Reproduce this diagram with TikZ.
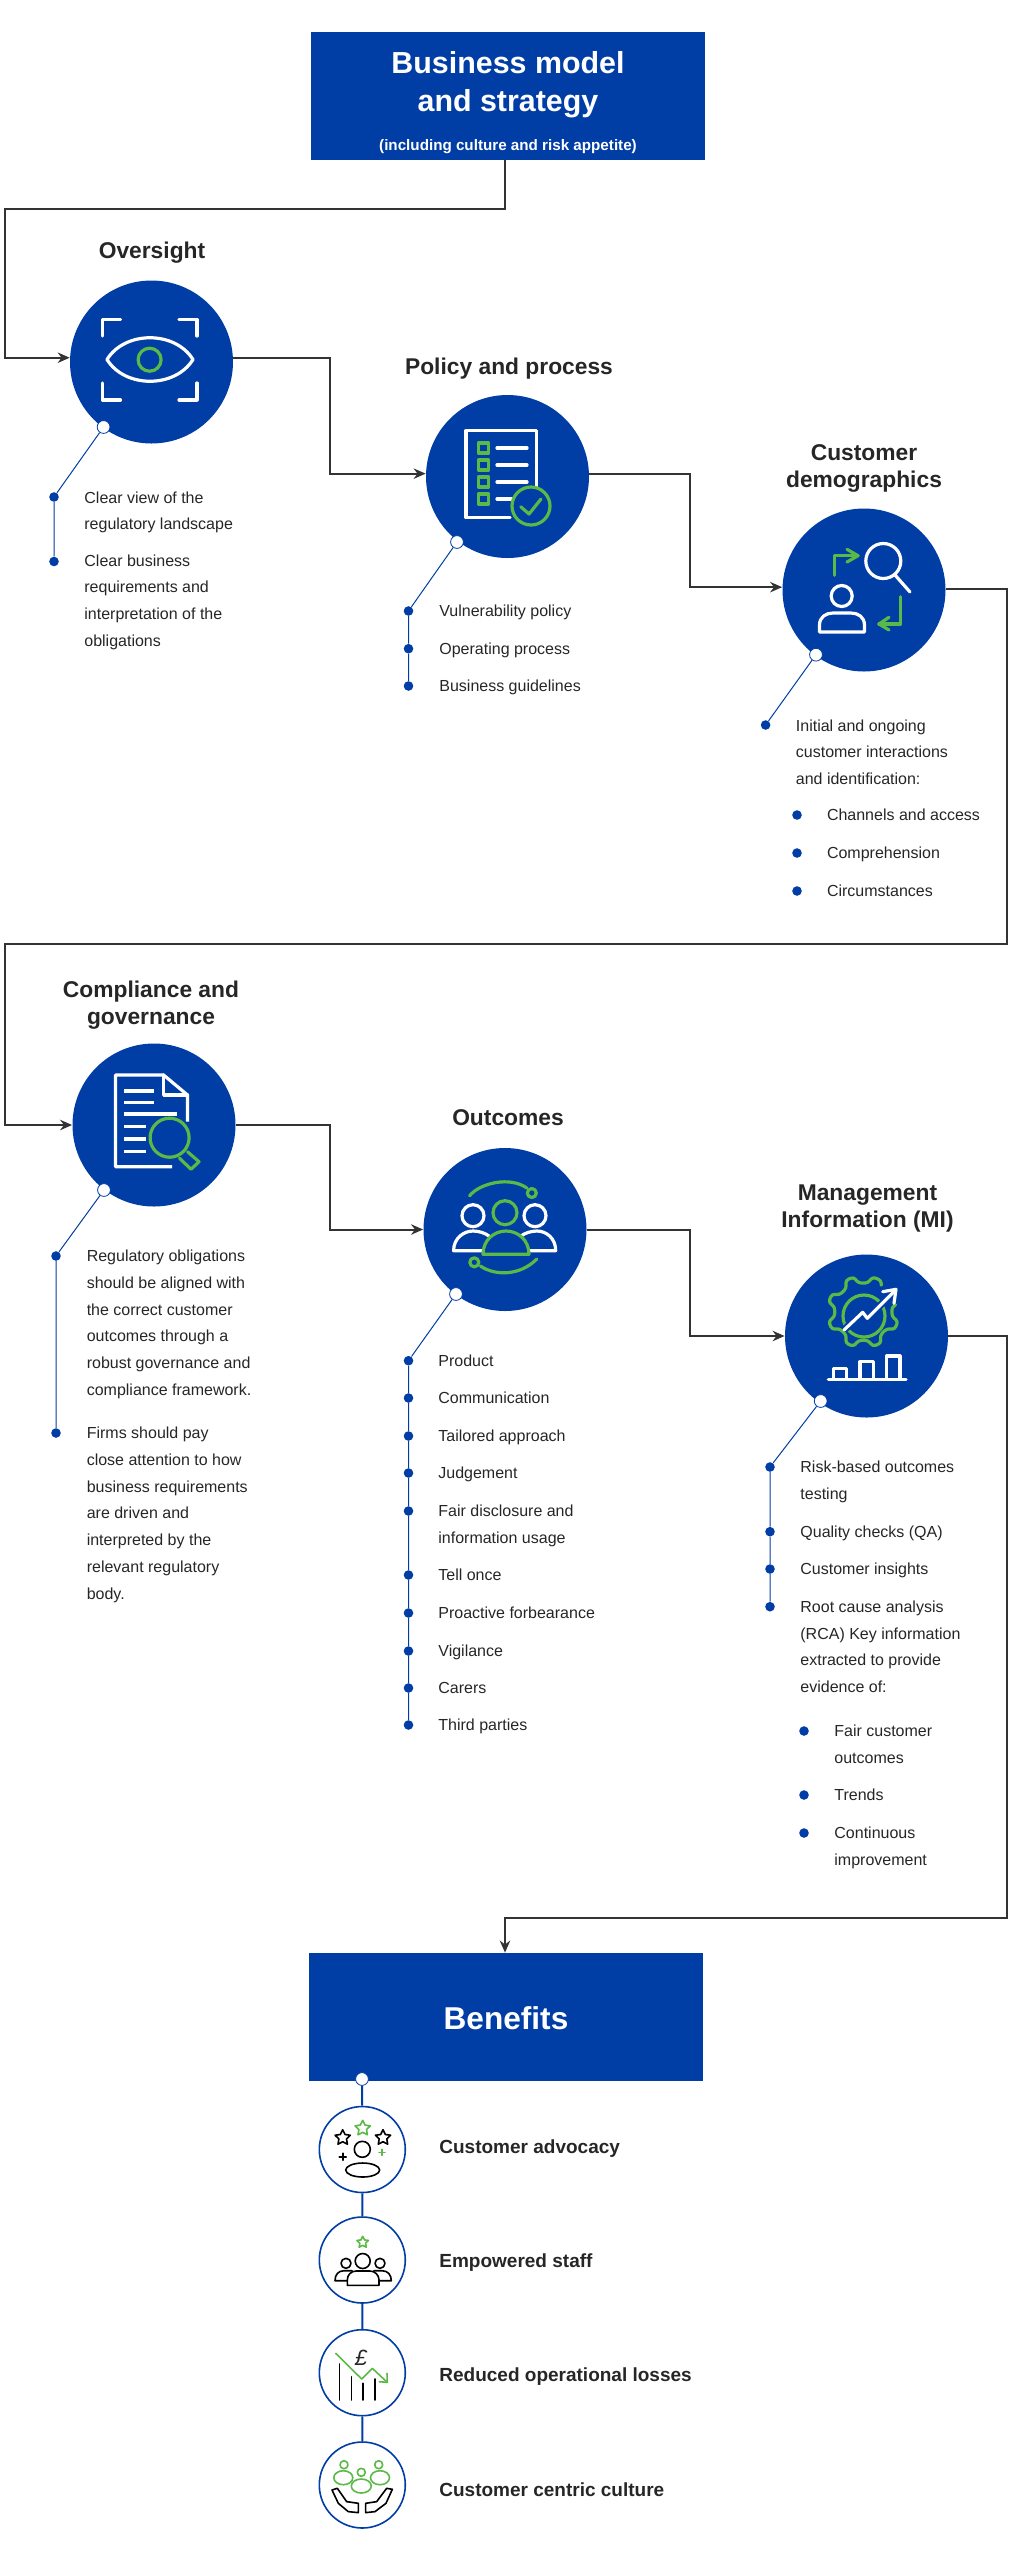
\documentclass[tikz,border=0pt]{standalone}
\usepackage{fontspec}
\setmainfont{Liberation Sans}
\usetikzlibrary{positioning,arrows.meta,calc}
\definecolor{bizblue}{HTML}{003DA5}
\definecolor{leaf}{HTML}{5BB947}
\definecolor{ink}{HTML}{262626}
\definecolor{flowgrey}{HTML}{333333}
\tikzset{
	bigbox/.style={rectangle,fill=bizblue,minimum width=197pt,minimum height=64pt,inner sep=0pt},
	stage/.style={circle,fill=bizblue,minimum size=81.5pt,inner sep=0pt},
	stagetitle/.style={align=center,inner sep=0pt,text=ink,font=\fontsize{11.4}{13.5}\selectfont\bfseries},
	itemtext/.style={anchor=north west,align=left,inner sep=0pt,text=ink,font=\fontsize{8}{13.4}\selectfont},
	bentext/.style={anchor=west,inner sep=0pt,text=ink,font=\fontsize{9.5}{12}\selectfont\bfseries},
	bullet/.style={circle,fill=bizblue,minimum size=4.8pt,inner sep=0pt},
	hookdot/.style={circle,fill=white,draw=bizblue,line width=.4pt,minimum size=6.4pt,inner sep=0pt},
	benring/.style={circle,fill=white,draw=bizblue,line width=.8pt,minimum size=43pt,inner sep=0pt},
	flow/.style={draw=flowgrey,line width=1pt,-{Stealth[length=6pt,width=5.2pt]}},
	tieline/.style={draw=bizblue,line width=.5pt},
	benline/.style={draw=bizblue,line width=1pt},
	whiteicon/.style={draw=white,line width=1.6pt,line cap=round,line join=round},
	greenicon/.style={draw=leaf,line width=1.6pt,line cap=round,line join=round},
	blackthin/.style={draw=black,line width=.8pt,line cap=round,line join=round},
	greenthin/.style={draw=leaf,line width=.8pt,line cap=round,line join=round},
}
\newcommand{\iconstar}[4]{\begin{scope}[shift={(#1,#2)},scale=#3]
	\draw[#4] (-90:1) -- (-54:.5) -- (-18:1) -- (18:.5) -- (54:1) -- (90:.5) -- (126:1) -- (162:.5) -- (198:1) -- (234:.5) -- cycle;
	\end{scope}}
\begin{document}
\begin{tikzpicture}[x=.5pt,y=-.5pt]
	\useasboundingbox (0,0) rectangle (1018,2560);
	\node[bigbox] (biz) at (508,96) {};
	\node[align=center,inner sep=0pt,text=white,font=\fontsize{15.2}{19}\selectfont\bfseries] (biztext) at (508,103) {Business model\\and strategy\\[.5pt]{\fontsize{7.6}{9}\selectfont(including culture and risk appetite)}};
	\node[bigbox] (ben) at (506,2017) {};
	\node[inner sep=0pt,text=white,font=\fontsize{15.8}{19}\selectfont\bfseries] (bentitle) at (506,2018) {Benefits};

	\node[stage] (over) at (151.5,362) {};
	\node[stage] (pol) at (507.5,476.5) {};
	\node[stage] (cust) at (864,590) {};
	\node[stage] (comp) at (154,1125) {};
	\node[stage] (outc) at (505,1229.5) {};
	\node[stage] (mi) at (866.5,1336) {};

	\node[stagetitle] (overt) at (152,253) {Oversight};
	\node[stagetitle] (polt) at (509,369) {Policy and process};
	\node[stagetitle] (custt) at (864,468.5) {Customer\\demographics};
	\node[stagetitle] (compt) at (151,1005) {Compliance and\\governance};
	\node[stagetitle] (outct) at (508,1118) {Outcomes};
	\node[stagetitle] (mit) at (867.5,1209) {Management\\Information (MI)};

	% elbows of the main flow
	\coordinate (e1) at (504.5,209);
	\coordinate (e2) at (5,209);
	\coordinate (e3) at (330,400);
	\coordinate (e4) at (689.6,500);
	\coordinate (e5) at (1006.5,944);
	\coordinate (e6) at (5,944);
	\coordinate (e7) at (330,1200);
	\coordinate (e8) at (689.6,1300);
	\coordinate (e9) at (1006.5,1917.7);
	\coordinate (e10) at (505,1917.7);

	\draw[flow] (e1 |- biz.south) -- (e1) -- (e2) |- (over.177);
	\draw[flow] (over.3) -| (e3) |- (pol.178);
	\draw[flow] (pol.2) -| (e4) |- (cust.178);
	\draw[flow] (cust.1) -| (e5) -- (e6) |- (comp.west);
	\draw[flow] (comp.east) -| (e7) |- (outc.west);
	\draw[flow] (outc.east) -| (e8) |- (mi.west);
	\draw[flow] (mi.east) -| (e9) -- (e10) -- (e10 |- ben.north);

	% oversight list
	\node[hookdot] (hookover) at (103.6,427) {};
	\node[bullet] (overa) at (54,497) {};
	\node[bullet] (overb) at (54,561.5) {};
	\draw[tieline] (hookover) -- (overa) -- (overb);
	\node[itemtext] (overat) at (84,491) {Clear view of the\\regulatory landscape};
	\node[itemtext] (overbt) at (84,554) {Clear business\\requirements and\\interpretation of the\\obligations};

	% policy list
	\node[hookdot] (hookpol) at (457,542) {};
	\node[bullet] (pola) at (408.5,611) {};
	\node[bullet] (polb) at (408.5,648.7) {};
	\node[bullet] (polc) at (408.5,686) {};
	\draw[tieline] (hookpol) -- (pola) -- (polb) -- (polc);
	\node[itemtext] (polat) at (439,604) {Vulnerability policy};
	\node[itemtext] (polbt) at (439,642) {Operating process};
	\node[itemtext] (polct) at (439,679.5) {Business guidelines};

	% customer list
	\node[hookdot] (hookcust) at (816,654.7) {};
	\node[bullet] (custa) at (765.6,725) {};
	\draw[tieline] (hookcust) -- (custa);
	\node[itemtext] (custat) at (795.5,719) {Initial and ongoing\\customer interactions\\and identification:};
	\node[bullet] (subca) at (797,815) {};
	\node[bullet] (subcb) at (797,853) {};
	\node[bullet] (subcc) at (797,891) {};
	\node[itemtext] (subcat) at (826.6,808.5) {Channels and access};
	\node[itemtext] (subcbt) at (826.6,846.5) {Comprehension};
	\node[itemtext] (subcct) at (826.6,884.5) {Circumstances};

	% compliance list
	\node[hookdot] (hookcomp) at (104,1190) {};
	\node[bullet] (compa) at (56,1256) {};
	\node[bullet] (compb) at (56,1433) {};
	\draw[tieline] (hookcomp) -- (compa) -- (compb);
	\node[itemtext] (compat) at (86.4,1249.5) {Regulatory obligations\\should be aligned with\\the correct customer\\outcomes through a\\robust governance and\\compliance framework.};
	\node[itemtext] (compbt) at (86.4,1426.5) {Firms should pay\\close attention to how\\business requirements\\are driven and\\interpreted by the\\relevant regulatory\\body.};

	% outcomes list
	\node[hookdot] (hookoutc) at (456,1294) {};
	\foreach \nm/\yy/\txt in {a/1360.7/Product,b/1398/Communication,c/1436/Tailored approach,d/1473/Judgement,e/1511/{Fair disclosure and\\information usage},f/1575/Tell once,g/1613/Proactive forbearance,h/1651/Vigilance,i/1688/Carers,j/1725/Third parties}{
		\node[bullet] (outc\nm) at (408.5,\yy) {};
		\node[itemtext] (outc\nm t) at (438,\yy-6.5) {\txt};
	}
	\draw[tieline] (hookoutc) -- (outca) -- (outcb) -- (outcc) -- (outcd) -- (outce) -- (outcf) -- (outcg) -- (outch) -- (outci) -- (outcj);

	% management information list
	\node[hookdot] (hookmi) at (820.7,1401) {};
	\node[bullet] (mia) at (770,1467) {};
	\node[bullet] (mib) at (770,1531.7) {};
	\node[bullet] (mic) at (770,1569) {};
	\node[bullet] (mid) at (770,1606.7) {};
	\draw[tieline] (hookmi) -- (mia) -- (mib) -- (mic) -- (mid);
	\node[itemtext] (miat) at (800,1460.5) {Risk-based outcomes\\testing};
	\node[itemtext] (mibt) at (800,1525.2) {Quality checks (QA)};
	\node[itemtext] (mict) at (800,1562.5) {Customer insights};
	\node[itemtext] (midt) at (800,1600.2) {Root cause analysis\\(RCA) Key information\\extracted to provide\\evidence of:};
	\node[bullet] (subma) at (804,1731) {};
	\node[bullet] (submb) at (804,1795) {};
	\node[bullet] (submc) at (804,1833) {};
	\node[itemtext] (submat) at (834,1724.5) {Fair customer\\outcomes};
	\node[itemtext] (submbt) at (834,1788.5) {Trends};
	\node[itemtext] (submct) at (834,1826.5) {Continuous\\improvement};

	% eye icon
	\draw[whiteicon] (120.5,319.3) -- (102.5,319.3) -- (102.5,336);
	\draw[whiteicon] (179,319.3) -- (197,319.3) -- (197,336);
	\draw[whiteicon] (120.5,400) -- (102.5,400) -- (102.5,383);
	\draw[whiteicon] (179,400) -- (197,400) -- (197,383);
	\draw[whiteicon] (107,359.5) .. controls (125,330.5) and (175,330.5) .. (193,359.5) .. controls (175,388.5) and (125,388.5) .. (107,359.5) -- cycle;
	\draw[greenicon] (149.6,359.7) circle[radius=11.5];

	% checklist icon
	\draw[whiteicon] (510,517.7) -- (466,517.7) -- (466,430.7) -- (536.4,430.7) -- (536.4,490);
	\foreach \yy in {448,465,482,499}{
		\draw[greenicon] (478.5,\yy-5) rectangle (488.7,\yy+5);
	}
	\foreach \yy in {448,465,482}{
		\draw[whiteicon] (497,\yy) -- (527,\yy);
	}
	\draw[whiteicon] (497,499) -- (512.5,499);
	\draw[greenicon,fill=bizblue] (531,506) circle[radius=19];
	\draw[greenicon] (520.7,506.7) -- (529,514) -- (541,499);

	% search and person icon
	\draw[whiteicon] (883.3,561) circle[radius=17.5];
	\draw[whiteicon] (895,575) -- (910,592);
	\draw[whiteicon] (841.7,596) circle[radius=10.5];
	\draw[whiteicon] (819.5,632) -- (864.5,632) -- (864.5,625) .. controls (864.5,617) and (858,613) .. (851,613) -- (833,613) .. controls (826,613) and (819.5,617) .. (819.5,625) -- cycle;
	\draw[greenicon] (834.7,575.3) -- (834.7,555.7) -- (858,555.7);
	\draw[greenicon] (847,549.3) -- (858,555.7) -- (847,562);
	\draw[greenicon] (900.7,596.7) -- (900.7,624) -- (879,624);
	\draw[greenicon] (889,617.3) -- (879,624) -- (889,630);

	% document icon
	\draw[whiteicon,line cap=butt] (172,1166.7) -- (115.4,1166.7) -- (115.4,1075) -- (163.6,1075) -- (187.5,1095) -- (187.5,1121.7);
	\draw[whiteicon] (163.6,1075) -- (163.6,1095) -- (187.5,1095);
	\draw[whiteicon,line cap=butt] (124.3,1091) -- (154.3,1091);
	\draw[whiteicon,line cap=butt] (124.3,1102.3) -- (154.3,1102.3);
	\draw[whiteicon,line cap=butt] (124.3,1114) -- (176.8,1114);
	\foreach \yy in {1126.7,1139,1151.7}{
		\draw[whiteicon,line cap=butt] (124.3,\yy) -- (146.4,\yy);
	}
	\draw[greenicon] (169.6,1137.7) circle[radius=19.5];
	\draw[greenicon] (179.6,1158.3) -- (191,1169.3) -- (199,1161.7) -- (187.5,1151.7);

	% people icon
	\draw[greenicon] (469.6,1195.7) .. controls (480,1183) and (510,1176) .. (526.8,1188);
	\draw[greenicon] (531.8,1193) circle[radius=4.5];
	\draw[greenicon] (480.4,1266) .. controls (495,1276) and (520,1276) .. (536.8,1259);
	\draw[greenicon] (474.3,1262.3) circle[radius=4.5];
	\draw[whiteicon] (473,1215.7) circle[radius=11];
	\draw[whiteicon] (535,1215.7) circle[radius=11];
	\draw[greenicon] (505,1212.7) circle[radius=12];
	\draw[whiteicon] (489,1236) .. controls (485,1233) and (479,1231) .. (473,1231) .. controls (464,1231) and (453.6,1238) .. (453.6,1250.7) -- (482,1250.7);
	\draw[whiteicon] (521,1236) .. controls (525,1233) and (531,1231) .. (537,1231) .. controls (546,1231) and (555.7,1238) .. (555.7,1250.7) -- (530,1250.7);
	\draw[greenicon] (483,1254.3) .. controls (483,1240) and (494,1231) .. (506,1231) .. controls (518,1231) and (529,1240) .. (529,1254.3) -- cycle;

	% gear icon
	\begin{scope}[shift={(863.3,1311.7)}]
		\draw[greenicon,rounded corners=1.5pt] (-56:32) -- (-60:36) -- (-75:36) -- (-81:29)
			\foreach \a in {112.5,157.5,...,337.5}{ -- ({-(\a-13)}:29) -- ({-(\a-7)}:36) -- ({-(\a+7)}:36) -- ({-(\a+13)}:29) }
			-- (-369.5:29) -- (-372:33);
		\draw[greenicon] (.7,4.3) circle[radius=21];
	\end{scope}
	\draw[draw=bizblue,line width=3.6pt] (844,1330) -- (862.7,1312.3) -- (867.3,1318.3) -- (893.3,1292.3);
	\draw[whiteicon] (844,1330) -- (862.7,1312.3) -- (867.3,1318.3) -- (893.3,1292.3);
	\draw[whiteicon] (882.7,1291.7) -- (896,1289.3) -- (894,1303.3);
	\draw[whiteicon] (828.3,1379.3) -- (906,1379.3);
	\draw[whiteicon] (833.3,1379.3) -- (833.3,1368.3) -- (846.7,1368.3) -- (846.7,1379.3);
	\draw[whiteicon] (860,1379.3) -- (860,1361.7) -- (873.3,1361.7) -- (873.3,1379.3);
	\draw[whiteicon] (886.7,1379.3) -- (886.7,1356) -- (900,1356) -- (900,1379.3);

	% benefits chain
	\node[hookdot] (hookben) at (362,2079) {};
	\node[benring] (adv) at (362.3,2149.5) {};
	\node[benring] (staff) at (362.3,2260) {};
	\node[benring] (loss) at (362.3,2372.7) {};
	\node[benring] (cult) at (362.3,2485) {};
	\draw[benline] (hookben) -- (adv) -- (staff) -- (loss) -- (cult);
	\node[bentext] (advt) at (439,2148.5) {Customer advocacy};
	\node[bentext] (stafft) at (439,2262.5) {Empowered staff};
	\node[bentext] (losst) at (439,2376.5) {Reduced operational losses};
	\node[bentext] (cultt) at (439,2490) {Customer centric culture};

	\iconstar{362.7}{2128.3}{8}{greenthin}
	\iconstar{342.7}{2137.7}{8}{blackthin}
	\iconstar{383}{2137.7}{8}{blackthin}
	\draw[blackthin] (362.3,2149.3) circle[radius=8];
	\draw[blackthin] (362.7,2170) ellipse[x radius=17,y radius=7];
	\draw[blackthin] (339.2,2156.7) -- (346.2,2156.7);
	\draw[blackthin] (342.7,2153.2) -- (342.7,2160.2);
	\draw[greenthin] (379,2152.3) -- (385,2152.3);
	\draw[greenthin] (382,2149.3) -- (382,2155.3);

	\iconstar{362.7}{2242.3}{6}{greenthin}
	\draw[blackthin] (362.7,2261) circle[radius=7.5];
	\draw[blackthin] (346,2263.3) circle[radius=5];
	\draw[blackthin] (380,2263.3) circle[radius=5];
	\draw[blackthin] (347.3,2285.3) -- (379,2285.3) -- (379,2280) .. controls (379,2275) and (375,2271) .. (370,2271) -- (356,2271) .. controls (351,2271) and (347.3,2275) .. (347.3,2280) -- cycle;
	\draw[blackthin] (347,2280.7) -- (335,2280.7) .. controls (335,2275) and (338,2270.7) .. (344,2270.7) -- (352,2270.7);
	\draw[blackthin] (379,2280.7) -- (391.3,2280.7) .. controls (391.3,2275) and (388,2270.7) .. (382,2270.7) -- (374,2270.7);

	\foreach \xx/\yy in {339.3/2364,351.3/2376.7,363/2383.3,375/2379}{
		\draw[blackthin] (\xx,\yy) -- (\xx,2400);
	}
	\node[inner sep=0pt,text=ink,font=\fontsize{11}{12}\selectfont\itshape] (pound) at (361,2358) {£};
	\draw[greenthin] (335.7,2353.3) -- (361.7,2379) -- (372.3,2368.3) -- (387.3,2382.3);
	\draw[greenthin] (379.3,2381.7) -- (387.3,2382.3) -- (387,2373.3);

	\draw[greenthin] (344,2464.7) circle[radius=4];
	\draw[greenthin] (361.3,2472.3) circle[radius=4];
	\draw[greenthin] (378.7,2464.7) circle[radius=4];
	\draw[greenthin] (343.3,2477.7) ellipse[x radius=9.5,y radius=7];
	\draw[greenthin] (380,2477.7) ellipse[x radius=9.5,y radius=7];
	\draw[greenthin,fill=white] (361.3,2486) ellipse[x radius=10,y radius=7];
	\begin{scope}[shift={(280,2060)},scale=.3333]
		\draw[blackthin] (156,1290) -- (172,1285) -- (200,1325) -- (235,1330) -- (235,1358) -- (205,1355) -- (175,1330) -- cycle;
		\draw[blackthin] (337,1288) -- (320,1285) -- (290,1325) -- (257,1330) -- (257,1358) -- (285,1355) -- (318,1330) -- cycle;
	\end{scope}
\end{tikzpicture}
\end{document}
